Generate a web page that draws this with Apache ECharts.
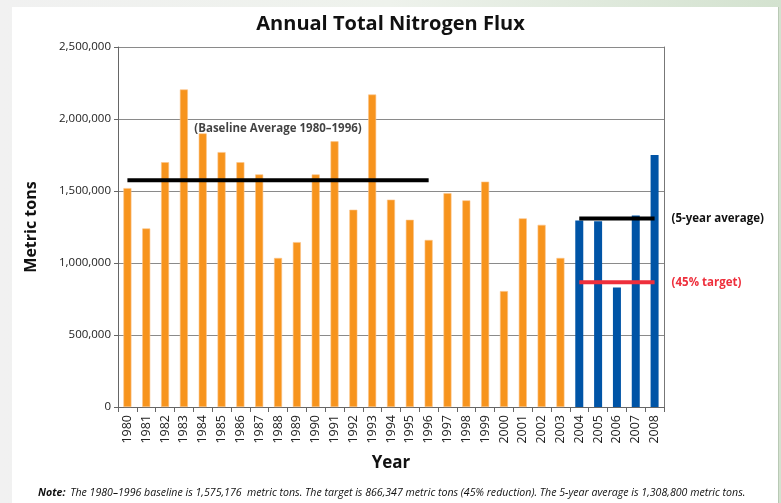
<!DOCTYPE html>
<html>
<head>
<meta charset="utf-8">
<script src="https://cdn.jsdelivr.net/npm/echarts@6/dist/echarts.min.js"></script>
<style>
  html, body { margin: 0; padding: 0; }
  #wrap {
    position: relative; width: 781px; height: 503px; overflow: hidden;
    background: linear-gradient(90deg, #f1f1f1 0%, #eef2ec 50%, #d3e2cf 100%);
  }
  #card {
    position: absolute; left: 12px; top: 7px; width: 766px; height: 496px;
    background: #fff; border-right: 1px solid #b9c9b5;
  }
  #chart { position: absolute; left: 0; top: 0; width: 781px; height: 503px; }
</style>
</head>
<body>
<div id="wrap">
  <div id="card"></div>
  <div id="chart"></div>
</div>
<script>
// years on the x axis
const years = ['1980','1981','1982','1983','1984','1985','1986','1987','1988','1989',
  '1990','1991','1992','1993','1994','1995','1996','1997','1998','1999',
  '2000','2001','2002','2003','2004','2005','2006','2007','2008']

// annual flux, metric tons
const fluxHistoric = [1520000, 1240000, 1700000, 2205000, 1900000, 1770000, 1700000, 1615000,
  1035000, 1145000, 1615000, 1845000, 1370000, 2170000, 1440000, 1300000, 1160000,
  1485000, 1435000, 1565000, 805000, 1310000, 1265000, 1035000]
const fluxRecent = [1295000, 1290000, 830000, 1330000, 1750000]

// reference levels from the note
const baseline = 1575176
const target = 866347
const fiveYearAvg = 1308800
const baselineYears = years.slice(0, 17)
const recentYears = years.slice(24)

const yTicks = [0, 500000, 1000000, 1500000, 2000000, 2500000]

const histData = years.map((y, i) => i < fluxHistoric.length ? fluxHistoric[i] : null)
const recentData = years.map((y, i) => i >= 24 ? fluxRecent[i - 24] : null)
const lineOn = (list, v) => years.map(y => list.includes(y) ? v : null)

const chart = echarts.init(document.getElementById('chart'))
const font = '"Open Sans", "Noto Sans", sans-serif'

chart.setOption({
  animation: false,
  backgroundColor: 'transparent',
  textStyle: { fontFamily: font },
  title: [
    {
      text: 'Annual Total Nitrogen Flux',
      left: 'center', top: 9,
      textStyle: { fontFamily: font, fontSize: 20, fontWeight: 'bold', color: '#111' }
    },
    {
      text: '{b|Note:} {i|The 1980–1996 baseline is 1,575,176  metric tons. The target is 866,347 metric tons (45% reduction). The 5-year average is 1,308,800 metric tons.}',
      left: 33, top: 479,
      textStyle: {
        fontWeight: 'normal',
        rich: {
          b: { fontFamily: font, fontSize: 10.6, fontWeight: 'bold', fontStyle: 'italic', color: '#111' },
          i: { fontFamily: font, fontSize: 10.6, fontWeight: 'normal', fontStyle: 'italic', color: '#111' }
        }
      }
    }
  ],
  grid: { left: 118, right: 117, top: 47, bottom: 96 },
  xAxis: {
    type: 'category',
    data: years,
    name: 'Year',
    nameLocation: 'middle',
    nameGap: 48,
    nameTextStyle: { fontSize: 17, fontWeight: 'bold', color: '#111' },
    axisLine: { lineStyle: { color: '#666', width: 1 } },
    axisTick: { show: true, length: 5, lineStyle: { color: '#666' } },
    axisLabel: { rotate: 90, fontSize: 12.5, color: '#222', margin: 8, interval: 0 }
  },
  yAxis: [
    {
      type: 'value', min: 0, max: 2500000, interval: 500000,
      name: 'Metric tons',
      nameLocation: 'middle',
      nameGap: 79,
      nameTextStyle: { fontSize: 16, fontWeight: 'bold', color: '#111' },
      axisLine: { show: true, lineStyle: { color: '#666' } },
      axisTick: { show: true, length: 4, lineStyle: { color: '#666' } },
      splitLine: { lineStyle: { color: '#8a8a8a', width: 1 } },
      axisLabel: {
        fontSize: 11.5, color: '#222', margin: 7,
        formatter: v => yTicks.includes(v) ? v.toLocaleString('en-US') : ''
      }
    },
    {
      type: 'value', min: 0, max: 2500000, position: 'right',
      axisLine: { show: true, lineStyle: { color: '#777' } },
      axisTick: { show: false }, axisLabel: { show: false }, splitLine: { show: false }
    }
  ],
  series: [
    {
      type: 'bar', data: histData, barWidth: 8, barGap: '-100%',
      itemStyle: { color: '#f7941d', borderColor: '#fbc58a', borderWidth: 0.6 }
    },
    {
      type: 'bar', data: recentData, barWidth: 8, barGap: '-100%',
      itemStyle: { color: '#0054a6' }
    },
    {
      type: 'line', data: lineOn(baselineYears, baseline),
      showSymbol: false, lineStyle: { color: '#000', width: 4 }, z: 5
    },
    {
      type: 'line', data: lineOn(recentYears, fiveYearAvg),
      showSymbol: false, lineStyle: { color: '#000', width: 4 }, z: 5,
      endLabel: {
        show: true, formatter: '(5-year average)', distance: 17,
        fontSize: 11.5, fontWeight: 'bold', color: '#111'
      }
    },
    {
      type: 'line', data: lineOn(recentYears, target),
      showSymbol: false, lineStyle: { color: '#ee2f3c', width: 4 }, z: 5,
      endLabel: {
        show: true, formatter: '(45% target)', distance: 17,
        fontSize: 11.5, fontWeight: 'bold', color: '#ee2f3c'
      }
    },
    {
      type: 'scatter', symbolSize: 0, z: 6,
      data: [['1988', 1930000]],
      label: {
        show: true, position: 'inside', formatter: '(Baseline Average 1980–1996)',
        fontSize: 11.5, fontWeight: 'bold', color: '#111'
      }
    }
  ]
})
</script>
</body>
</html>
